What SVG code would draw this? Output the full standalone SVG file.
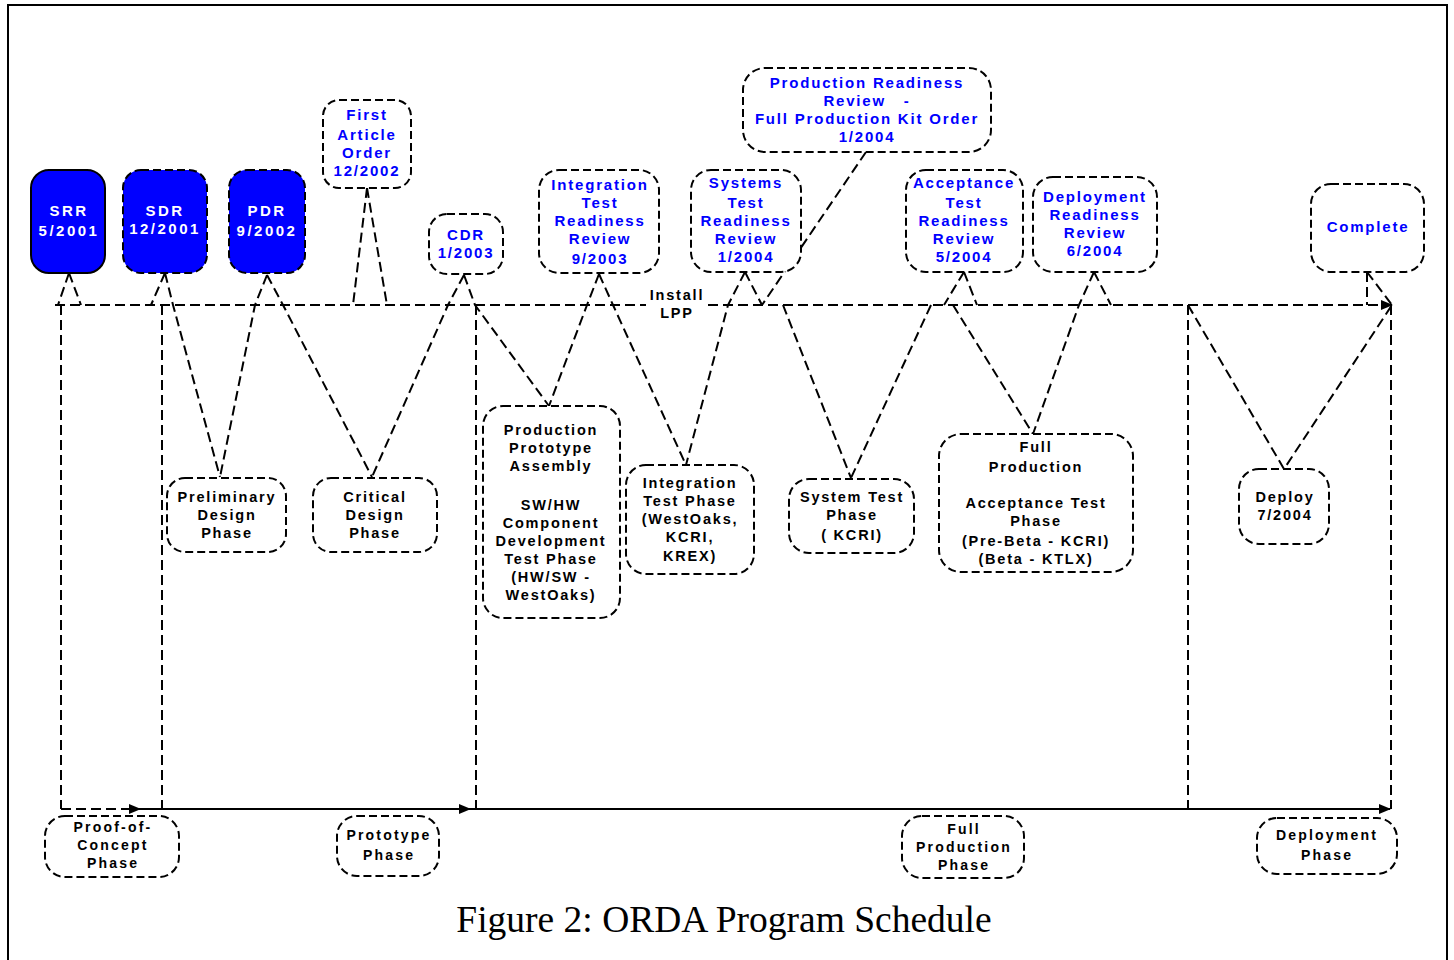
<svg xmlns="http://www.w3.org/2000/svg" width="1454" height="960" viewBox="0 0 1454 960">
<style>
.bx{fill:#fff;stroke:#000;stroke-width:2;stroke-dasharray:8 4}
.bb{fill:#0000ff;stroke:#000;stroke-width:2}
.bbd{fill:#0000ff;stroke:#000;stroke-width:2;stroke-dasharray:8 4}
.ln{fill:none;stroke:#000;stroke-width:2;stroke-dasharray:10 5}
.sl{fill:none;stroke:#000;stroke-width:2}
text{font-family:"Liberation Sans",Arial,sans-serif;font-weight:bold;text-anchor:middle}
.bl{fill:#0000ff;font-size:15px;letter-spacing:1.8px}
.wt{fill:#fff;font-size:15px;letter-spacing:2.5px}
.bk{fill:#000;font-size:14.5px;letter-spacing:1.8px}
.bt{fill:#000;font-size:14px;letter-spacing:2.2px}
.cap{font-family:"Liberation Serif","Times New Roman",serif;font-weight:normal;font-size:37.5px;letter-spacing:0}
</style>
<defs>
<marker id="ah" markerUnits="userSpaceOnUse" markerWidth="12" markerHeight="10" refX="11" refY="5" orient="auto">
<path d="M0,0 L12,5 L0,10 Z" fill="#000"/>
</marker>
</defs>
<rect x="8" y="5" width="1439" height="975" fill="#fff" stroke="#000" stroke-width="2"/>

<g id="connectors">
<path class="ln" d="M55,305 H646"/>
<path class="ln" d="M708,305 H1392" marker-end="url(#ah)"/>
<path class="ln" d="M61,305 V809"/>
<path class="ln" d="M162,305 V809"/>
<path class="ln" d="M476,305 V809"/>
<path class="ln" d="M1188,305 V809"/>
<path class="ln" d="M1391,305 V809"/>
<path class="ln" d="M61,809 H140" marker-end="url(#ah)"/>
<path class="sl" d="M140,809 H470" marker-end="url(#ah)"/>
<path class="sl" d="M470,809 H1390" marker-end="url(#ah)"/>
<path class="ln" d="M69,273 L58,305 M69,273 L81,305"/>
<path class="ln" d="M165,273 L151,305 M165,273 L173,305 L220,477"/>
<path class="ln" d="M267,275 L255,305 L220,477 M267,275 L283,305 L372,477"/>
<path class="ln" d="M367,188 L353,305 M367,188 L387,305"/>
<path class="ln" d="M464,275 L448,305 L372,477 M464,275 L475,305 L549,406"/>
<path class="ln" d="M599,274 L587,305 L549,406 M599,274 L613,305 L686,465"/>
<path class="ln" d="M745,272 L728,305 L686,465 M745,272 L762,305"/>
<path class="ln" d="M866,152 L762,305"/>
<path class="ln" d="M783,305 L851,478 M931,305 L851,478"/>
<path class="ln" d="M964,272 L944,305 M964,272 L977,305"/>
<path class="ln" d="M953,305 L1033,434"/>
<path class="ln" d="M1094,272 L1079,305 L1033,434 M1094,272 L1111,305"/>
<path class="ln" d="M1188,305 L1284,469 L1392,305"/>
<path class="ln" d="M1367,272 L1367,305 M1367,272 L1392,305"/>
</g>

<g id="install-lpp">
<text class="bk" x="677" y="300">Install</text>
<text class="bk" x="677" y="318">LPP</text>
</g>

<g id="srr">
<rect class="bb" x="31" y="170" width="74" height="103" rx="18"/>
<text class="wt" x="69" y="216">SRR</text>
<text class="wt" x="69" y="236">5/2001</text>
</g>
<g id="sdr">
<rect class="bbd" x="123" y="170" width="84" height="103" rx="18"/>
<text class="wt" x="165" y="216">SDR</text>
<text class="wt" x="165" y="234">12/2001</text>
</g>
<g id="pdr">
<rect class="bbd" x="229" y="170" width="76" height="103" rx="18"/>
<text class="wt" x="267" y="216">PDR</text>
<text class="wt" x="267" y="236">9/2002</text>
</g>
<g id="fao">
<rect class="bx" x="323" y="100" width="88" height="88" rx="16"/>
<text class="bl" x="367" y="120">First</text>
<text class="bl" x="367" y="140">Article</text>
<text class="bl" x="367" y="158">Order</text>
<text class="bl" x="367" y="176">12/2002</text>
</g>
<g id="cdr">
<rect class="bx" x="429" y="214" width="74" height="60" rx="18"/>
<text class="bl" x="466" y="240">CDR</text>
<text class="bl" x="466" y="258">1/2003</text>
</g>
<g id="itrr">
<rect class="bx" x="539" y="170" width="120" height="103" rx="20"/>
<text class="bl" x="600" y="190">Integration</text>
<text class="bl" x="600" y="208">Test</text>
<text class="bl" x="600" y="226">Readiness</text>
<text class="bl" x="600" y="244">Review</text>
<text class="bl" x="600" y="264">9/2003</text>
</g>
<g id="strr">
<rect class="bx" x="691" y="170" width="110" height="102" rx="20"/>
<text class="bl" x="746" y="188">Systems</text>
<text class="bl" x="746" y="208">Test</text>
<text class="bl" x="746" y="226">Readiness</text>
<text class="bl" x="746" y="244">Review</text>
<text class="bl" x="746" y="262">1/2004</text>
</g>
<g id="prr">
<rect class="bx" x="743" y="68" width="248" height="84" rx="22"/>
<text class="bl" x="867" y="88">Production Readiness</text>
<text class="bl" x="867" y="106" style="white-space:pre">Review   -</text>
<text class="bl" x="867" y="124">Full Production Kit Order</text>
<text class="bl" x="867" y="142">1/2004</text>
</g>
<g id="atrr">
<rect class="bx" x="906" y="170" width="117" height="102" rx="20"/>
<text class="bl" x="964" y="188">Acceptance</text>
<text class="bl" x="964" y="208">Test</text>
<text class="bl" x="964" y="226">Readiness</text>
<text class="bl" x="964" y="244">Review</text>
<text class="bl" x="964" y="262">5/2004</text>
</g>
<g id="drr">
<rect class="bx" x="1033" y="177" width="124" height="95" rx="20"/>
<text class="bl" x="1095" y="202">Deployment</text>
<text class="bl" x="1095" y="220">Readiness</text>
<text class="bl" x="1095" y="238">Review</text>
<text class="bl" x="1095" y="256">6/2004</text>
</g>
<g id="complete">
<rect class="bx" x="1311" y="184" width="113" height="88" rx="20"/>
<text class="bl" x="1368" y="232">Complete</text>
</g>

<g id="prelim">
<rect class="bx" x="167" y="478" width="119" height="74" rx="18"/>
<text class="bk" x="227" y="502">Preliminary</text>
<text class="bk" x="227" y="520">Design</text>
<text class="bk" x="227" y="538">Phase</text>
</g>
<g id="critical">
<rect class="bx" x="313" y="478" width="124" height="74" rx="18"/>
<text class="bk" x="375" y="502">Critical</text>
<text class="bk" x="375" y="520">Design</text>
<text class="bk" x="375" y="538">Phase</text>
</g>
<g id="ppa">
<rect class="bx" x="483" y="406" width="137" height="212" rx="20"/>
<text class="bk" x="551" y="435">Production</text>
<text class="bk" x="551" y="453">Prototype</text>
<text class="bk" x="551" y="471">Assembly</text>
<text class="bk" x="551" y="510">SW/HW</text>
<text class="bk" x="551" y="528">Component</text>
<text class="bk" x="551" y="546">Development</text>
<text class="bk" x="551" y="564">Test Phase</text>
<text class="bk" x="551" y="582">(HW/SW -</text>
<text class="bk" x="551" y="600">WestOaks)</text>
</g>
<g id="itp">
<rect class="bx" x="626" y="465" width="128" height="109" rx="20"/>
<text class="bk" x="690" y="488">Integration</text>
<text class="bk" x="690" y="506">Test Phase</text>
<text class="bk" x="690" y="524">(WestOaks,</text>
<text class="bk" x="690" y="542">KCRI,</text>
<text class="bk" x="690" y="561">KREX)</text>
</g>
<g id="stp">
<rect class="bx" x="789" y="479" width="125" height="74" rx="20"/>
<text class="bk" x="852" y="502">System Test</text>
<text class="bk" x="852" y="520">Phase</text>
<text class="bk" x="852" y="540">( KCRI)</text>
</g>
<g id="fp">
<rect class="bx" x="939" y="434" width="194" height="138" rx="22"/>
<text class="bk" x="1036" y="452">Full</text>
<text class="bk" x="1036" y="472">Production</text>
<text class="bk" x="1036" y="508">Acceptance Test</text>
<text class="bk" x="1036" y="526">Phase</text>
<text class="bk" x="1036" y="546">(Pre-Beta - KCRI)</text>
<text class="bk" x="1036" y="564">(Beta - KTLX)</text>
</g>
<g id="deploy">
<rect class="bx" x="1239" y="469" width="90" height="75" rx="20"/>
<text class="bk" x="1285" y="502">Deploy</text>
<text class="bk" x="1285" y="520">7/2004</text>
</g>

<g id="poc">
<rect class="bx" x="45" y="816" width="134" height="61" rx="20"/>
<text class="bt" x="113" y="832">Proof-of-</text>
<text class="bt" x="113" y="850">Concept</text>
<text class="bt" x="113" y="868">Phase</text>
</g>
<g id="prototype">
<rect class="bx" x="337" y="816" width="102" height="60" rx="20"/>
<text class="bt" x="389" y="840">Prototype</text>
<text class="bt" x="389" y="860">Phase</text>
</g>
<g id="fpp">
<rect class="bx" x="902" y="816" width="122" height="62" rx="20"/>
<text class="bt" x="964" y="834">Full</text>
<text class="bt" x="964" y="852">Production</text>
<text class="bt" x="964" y="870">Phase</text>
</g>
<g id="dp">
<rect class="bx" x="1257" y="818" width="140" height="56" rx="20"/>
<text class="bt" x="1327" y="840">Deployment</text>
<text class="bt" x="1327" y="860">Phase</text>
</g>

<text class="cap" x="724" y="932">Figure 2: ORDA Program Schedule</text>
</svg>
